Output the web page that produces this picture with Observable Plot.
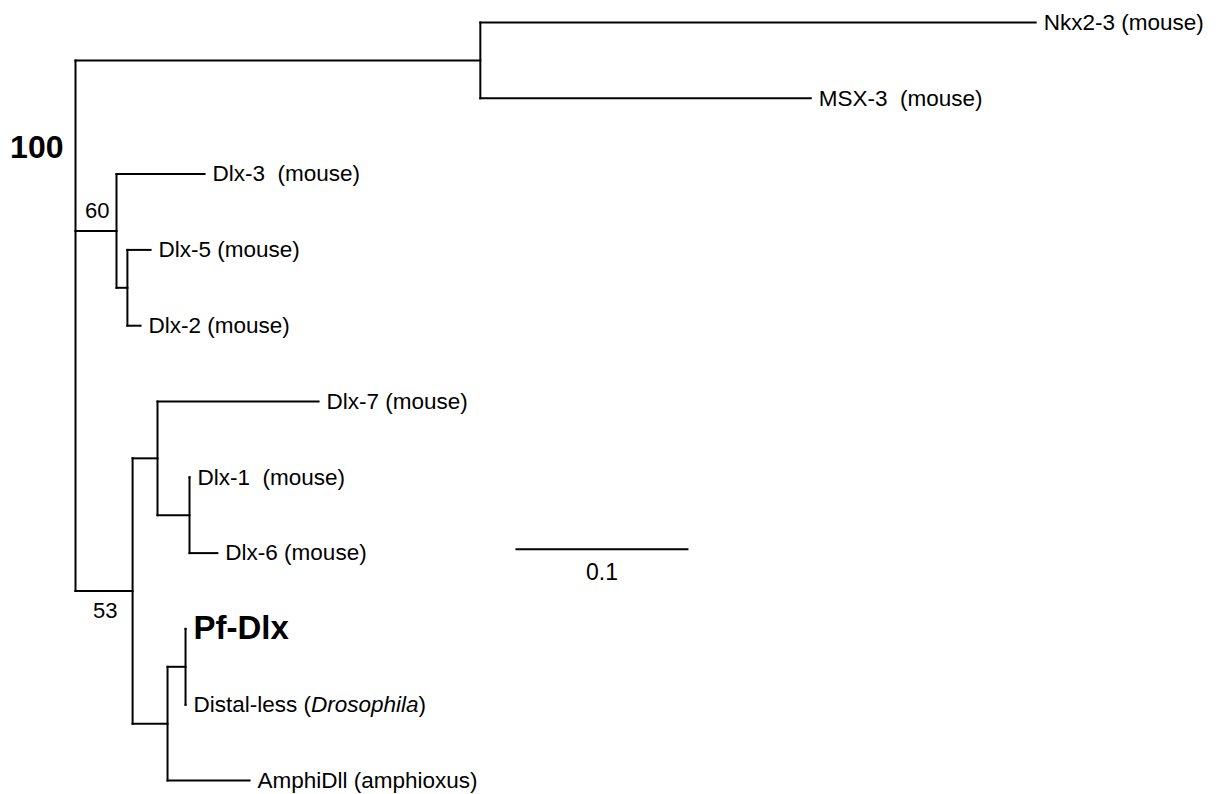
<!DOCTYPE html>
<html>
<head>
<meta charset="utf-8">
<script src="https://cdn.jsdelivr.net/npm/d3@7"></script>
<script src="https://cdn.jsdelivr.net/npm/@observablehq/plot@0.6"></script>
<style>
  html, body { margin: 0; padding: 0; background: #fff; }
  svg text { white-space: pre; }
</style>
</head>
<body>
<div id="chart"></div>
<script>
// Tree topology: node names, parents, branch lengths (substitutions/site)
const nodeNames = ["root","n1","Nkx2-3 (mouse)","MSX-3  (mouse)","n2","Dlx-3  (mouse)","n3","Dlx-5 (mouse)","Dlx-2 (mouse)","n4","n5","Dlx-7 (mouse)","n6","Dlx-1  (mouse)","Dlx-6 (mouse)","n7","n8","Pf-Dlx","Distal-less (Drosophila)","AmphiDll (amphioxus)"];
const nodeParents = [null,"root","n1","n1","root","n2","n2","n3","n3","root","n4","n5","n5","n6","n6","n4","n7","n8","n8","n7"];
const branchLengths = [0,0.234,0.321,0.191,0.0237,0.0509,0.0063,0.0134,0.0076,0.033,0.0144,0.0931,0.0185,0,0.0161,0.0202,0.0104,0,0,0.0474];
// Bootstrap support values
const supportNodes = ["n1","n2","n4"];
const supportValues = ["100","60","53"];
// Scale bar
const scaleBarLength = 0.1;
const scaleBarLabel = "0.1";

// Build tree
const byName = new Map();
nodeNames.forEach((name, i) => byName.set(name, {name, parent: nodeParents[i], len: branchLengths[i], children: []}));
for (const n of byName.values()) if (n.parent) byName.get(n.parent).children.push(n);
const root = byName.get("root");
let leafIndex = 0;
(function layout(n, x0) {
  n.x = x0 + n.len;
  if (n.children.length === 0) { n.y = leafIndex++; }
  else {
    n.children.forEach(c => layout(c, n.x));
    n.y = d3.mean(n.children, c => c.y);
    n.ymin = d3.min(n.children, c => c.y);
    n.ymax = d3.max(n.children, c => c.y);
  }
})(root, 0);

const all = Array.from(byName.values());
const horiz = all.filter(n => n.parent).map(n => ({x1: byName.get(n.parent).x, x2: n.x, y: n.y}));
const vert = all.filter(n => n.children.length).map(n => ({x: n.x, y1: n.ymin, y2: n.ymax}));
const leaves = all.filter(n => n.children.length === 0);
const normalLeaves = leaves.filter(n => n.name !== "Pf-Dlx");
const boldLeaves = leaves.filter(n => n.name === "Pf-Dlx");

const sup = supportNodes.map((s, i) => ({node: byName.get(s), label: supportValues[i]}));
const supRoot = sup.filter(d => d.label === "100").map(d => ({x: 0, y: d.node.y, label: d.label}));
const sup60 = sup.filter(d => d.label === "60").map(d => ({x: d.node.x, y: d.node.y, label: d.label}));
const sup53 = sup.filter(d => d.label === "53").map(d => ({x: d.node.x, y: d.node.y, label: d.label}));

const barStart = 0.2543;
const bar = [{x1: barStart, x2: barStart + scaleBarLength, y: 6.95, label: scaleBarLabel}];

const font = "'Liberation Sans', Arial, Helvetica, sans-serif";

const chart = Plot.plot({
  width: 1230,
  height: 794,
  margin: 0,
  x: {domain: [0, 0.6], range: [75, 1113], axis: null},
  y: {domain: [0, 10], range: [22, 780], axis: null},
  style: {fontFamily: font, background: "white", color: "black"},
  marks: [
    Plot.link(horiz, {x1: "x1", x2: "x2", y1: "y", y2: "y", stroke: "black", strokeWidth: 2, strokeLinecap: "square"}),
    Plot.link(vert, {x1: "x", x2: "x", y1: "y1", y2: "y2", stroke: "black", strokeWidth: 2, strokeLinecap: "square"}),
    Plot.text(normalLeaves, {x: "x", y: "y", text: "name", textAnchor: "start", dx: 8, fontSize: 22.5, fill: "black"}),
    Plot.text(boldLeaves, {x: "x", y: "y", text: "name", textAnchor: "start", dx: 8, fontSize: 33, fontWeight: "bold", fill: "black"}),
    Plot.text(supRoot, {x: "x", y: "y", text: "label", textAnchor: "end", dx: -12, dy: 87, fontSize: 32, fontWeight: "bold", fill: "black"}),
    Plot.text(sup60, {x: "x", y: "y", text: "label", textAnchor: "end", dx: -7, dy: -20, fontSize: 22, fill: "black"}),
    Plot.text(sup53, {x: "x", y: "y", text: "label", textAnchor: "end", dx: -15, dy: 20, fontSize: 22, fill: "black"}),
    Plot.link(bar, {x1: "x1", x2: "x2", y1: "y", y2: "y", stroke: "black", strokeWidth: 2}),
    Plot.text(bar, {x: d => (d.x1 + d.x2) / 2, y: "y", text: "label", dy: 23, fontSize: 23, fill: "black"})
  ]
});
document.getElementById("chart").appendChild(chart);

// Italicise the species name within the Distal-less label
d3.select(chart).selectAll("text").each(function() {
  const t = d3.select(this);
  if (t.text() === "Distal-less (Drosophila)") {
    t.text(null);
    t.append("tspan").text("Distal-less (");
    t.append("tspan").attr("font-style", "italic").text("Drosophila");
    t.append("tspan").text(")");
  }
});
</script>
</body>
</html>
